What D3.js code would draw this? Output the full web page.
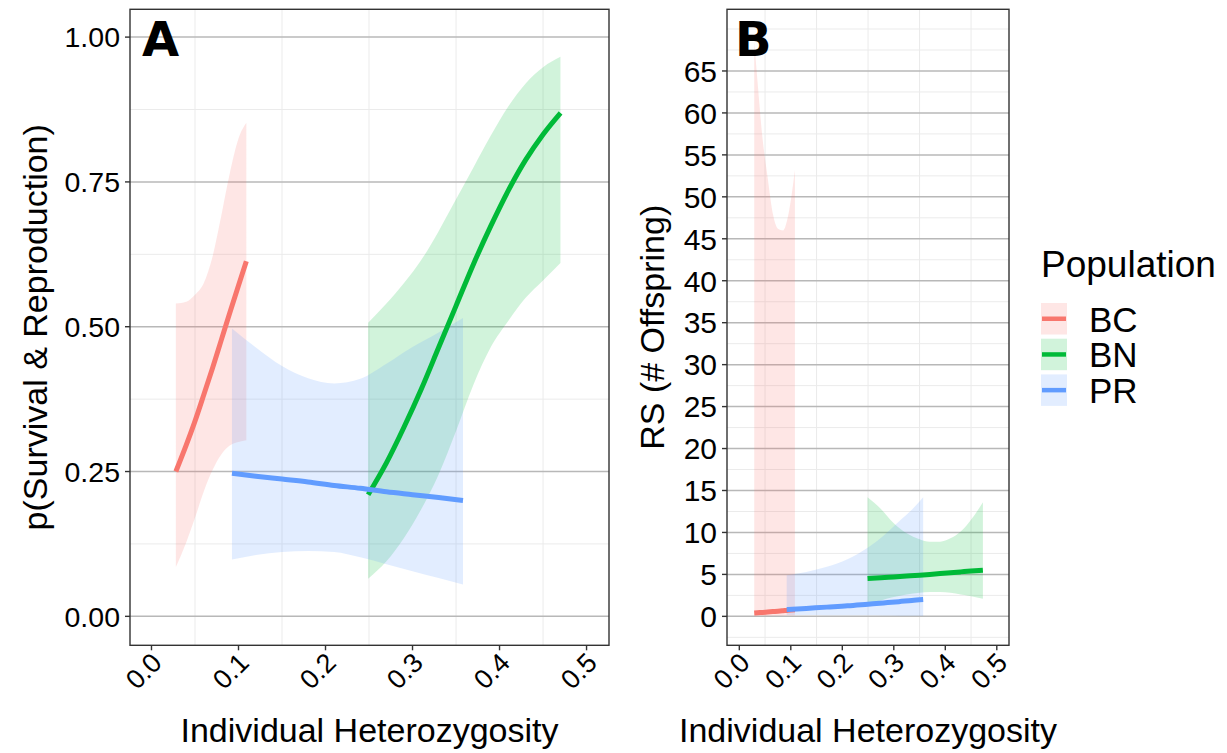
<!DOCTYPE html>
<html>
<head>
<meta charset="utf-8">
<script src="https://cdn.jsdelivr.net/npm/d3@7"></script>
<style>
  body { margin: 0; background: #fff; }
  svg text { font-family: "Liberation Sans", Arial, sans-serif; fill: #000; }
</style>
</head>
<body>
<svg id="chart" width="1227" height="753"></svg>
<script>
var populations = ["BC", "BN", "PR"];
var xTicks = [0, 0.1, 0.2, 0.3, 0.4, 0.5];
var survTicks = [0, 0.25, 0.5, 0.75, 1];
var rsTicks = [0, 5, 10, 15, 20, 25, 30, 35, 40, 45, 50, 55, 60, 65];

// Panel A - p(Survival & Reproduction), fitted line + ribbon per population
var bcSurvX   = [0.028, 0.04, 0.05, 0.06, 0.07, 0.08, 0.09, 0.1, 0.109];
var bcSurvFit = [0.25, 0.296, 0.337, 0.382, 0.428, 0.476, 0.524, 0.571, 0.613];
var bcSurvLo  = [0.085, 0.128, 0.17, 0.215, 0.252, 0.279, 0.295, 0.301, 0.304];
var bcSurvHi  = [0.54, 0.543, 0.555, 0.575, 0.62, 0.69, 0.765, 0.825, 0.852];

var bnSurvX   = [0.249, 0.27, 0.29, 0.31, 0.33, 0.35, 0.37, 0.39, 0.41, 0.43, 0.45, 0.47];
var bnSurvFit = [0.21, 0.265, 0.326, 0.392, 0.464, 0.536, 0.608, 0.674, 0.735, 0.788, 0.832, 0.869];
var bnSurvLo  = [0.065, 0.095, 0.135, 0.185, 0.245, 0.32, 0.4, 0.465, 0.51, 0.55, 0.58, 0.61];
var bnSurvHi  = [0.507, 0.54, 0.575, 0.615, 0.665, 0.72, 0.775, 0.83, 0.88, 0.92, 0.948, 0.966];

var prSurvX   = [0.0925, 0.12, 0.15, 0.18, 0.21, 0.24, 0.27, 0.3, 0.33, 0.358];
var prSurvFit = [0.247, 0.242, 0.237, 0.232, 0.226, 0.221, 0.215, 0.21, 0.205, 0.2];
var prSurvLo  = [0.098, 0.106, 0.111, 0.113, 0.111, 0.102, 0.09, 0.078, 0.066, 0.055];
var prSurvHi  = [0.497, 0.464, 0.432, 0.411, 0.402, 0.41, 0.436, 0.465, 0.49, 0.515];

// Panel B - RS (# offspring)
var bcRsX   = [0.029, 0.035, 0.045, 0.055, 0.065, 0.075, 0.085, 0.095, 0.108];
var bcRsFit = [0.4, 0.43, 0.47, 0.52, 0.57, 0.62, 0.68, 0.74, 0.8];
var bcRsLo  = [0.02, 0.03, 0.04, 0.05, 0.06, 0.07, 0.08, 0.09, 0.1];
var bcRsHi  = [68.5, 64, 57, 52.3, 48, 46.2, 46, 47.8, 53.2];

var bnRsX   = [0.249, 0.275, 0.3, 0.325, 0.35, 0.37, 0.39, 0.41, 0.43, 0.45, 0.473];
var bnRsFit = [4.5, 4.6, 4.7, 4.8, 4.9, 5.0, 5.1, 5.2, 5.3, 5.4, 5.5];
var bnRsLo  = [1.4, 1.9, 2.3, 2.6, 2.8, 2.9, 2.9, 2.8, 2.6, 2.4, 2.1];
var bnRsHi  = [14.2, 12.8, 11.1, 9.9, 9.2, 8.9, 8.9, 9.3, 10.1, 11.5, 13.6];

var prRsX   = [0.092, 0.13, 0.17, 0.21, 0.25, 0.28, 0.31, 0.335, 0.357];
var prRsFit = [0.8, 0.95, 1.1, 1.25, 1.45, 1.6, 1.75, 1.9, 2.0];
var prRsLo  = [0.15, 0.15, 0.14, 0.13, 0.12, 0.1, 0.08, 0.06, 0.05];
var prRsHi  = [4.9, 5.3, 5.9, 6.8, 8.2, 9.6, 11.3, 12.7, 14.2];

var color = d3.scaleOrdinal()
              .domain(populations)
              .range(["#F8766D", "#00BA38", "#619CFF"]);

function toRows(x, fit, lo, hi) {
    return x.map(function(v, i) {
        return {x: v, fit: fit[i], lo: lo[i], hi: hi[i]};
    });
}

var svg = d3.select("#chart");
svg.append("rect").attr("width", 1227).attr("height", 753).attr("fill", "#fff");

function drawPanel(p) {
    var x = d3.scaleLinear().domain(p.xDomain).range([p.left, p.right]);
    var y = d3.scaleLinear().domain(p.yDomain).range([p.bottom, p.top]);
    var g = svg.append("g");

    // minor grid
    var xMinor = [0.05, 0.15, 0.25, 0.35, 0.45];
    g.selectAll(".vminor").data(xMinor).enter().append("line")
     .attr("x1", d => x(d)).attr("x2", d => x(d))
     .attr("y1", p.top).attr("y2", p.bottom)
     .attr("stroke", "#ebebeb").attr("stroke-width", 1);
    g.selectAll(".hminor").data(p.yMinor).enter().append("line")
     .attr("x1", p.left).attr("x2", p.right)
     .attr("y1", d => y(d)).attr("y2", d => y(d))
     .attr("stroke", "#ebebeb").attr("stroke-width", 1);
    // major grid (horizontal only)
    g.selectAll(".hmajor").data(p.yTicks).enter().append("line")
     .attr("x1", p.left).attr("x2", p.right)
     .attr("y1", d => y(d)).attr("y2", d => y(d))
     .attr("stroke", "#b8b8b8").attr("stroke-width", 1.5);

    var area = d3.area()
                 .x(d => x(d.x)).y0(d => y(d.lo)).y1(d => y(d.hi))
                 .curve(d3.curveMonotoneX);
    var line = d3.line()
                 .x(d => x(d.x)).y(d => y(d.fit))
                 .curve(d3.curveMonotoneX);

    p.series.forEach(function(s) {
        g.append("path").attr("d", area(s.rows))
         .attr("fill", color(s.pop)).attr("fill-opacity", 0.18);
    });
    p.series.forEach(function(s) {
        g.append("path").attr("d", line(s.rows))
         .attr("fill", "none").attr("stroke", color(s.pop))
         .attr("stroke-width", 5);
    });

    // panel border
    g.append("rect")
     .attr("x", p.left).attr("y", p.top)
     .attr("width", p.right - p.left).attr("height", p.bottom - p.top)
     .attr("fill", "none").attr("stroke", "#333").attr("stroke-width", 1.4);

    // y axis ticks + labels
    g.selectAll(".ytick").data(p.yTicks).enter().append("line")
     .attr("x1", p.left - 5).attr("x2", p.left)
     .attr("y1", d => y(d)).attr("y2", d => y(d))
     .attr("stroke", "#333").attr("stroke-width", 1.4);
    g.selectAll(".ylab").data(p.yTicks).enter().append("text")
     .attr("x", p.left - 10).attr("y", d => y(d))
     .attr("dy", "0.36em")
     .attr("text-anchor", "end")
     .style("font-size", p.yTickSize + "px")
     .text(p.yFormat);

    // x axis ticks + rotated labels
    g.selectAll(".xtick").data(xTicks).enter().append("line")
     .attr("x1", d => x(d)).attr("x2", d => x(d))
     .attr("y1", p.bottom).attr("y2", p.bottom + 5)
     .attr("stroke", "#333").attr("stroke-width", 1.4);
    g.selectAll(".xlab").data(xTicks).enter().append("text")
     .attr("transform", d => "translate(" + (x(d) + 12) + "," + (p.bottom + 19) + ") rotate(-45)")
     .attr("text-anchor", "end")
     .style("font-size", "27px")
     .text(d3.format(".1f"));

    // axis titles
    g.append("text")
     .attr("x", (p.left + p.right) / 2).attr("y", 742)
     .attr("text-anchor", "middle")
     .style("font-size", "34px")
     .text("Individual Heterozygosity");
    g.append("text")
     .attr("transform", "translate(" + p.yTitleX + "," + (p.top + p.bottom) / 2 + ") rotate(-90)")
     .attr("text-anchor", "middle")
     .style("font-size", "34px")
     .text(p.yTitle);

    // panel letter
    g.append("text")
     .attr("x", p.letterX).attr("y", 56)
     .style("font-family", "'DejaVu Sans', sans-serif")
     .style("font-weight", "bold")
     .style("font-size", "48px")
     .text(p.letter);
}

drawPanel({
    left: 130, right: 609, top: 9.3, bottom: 645.3,
    xDomain: [-0.0247, 0.5258], yDomain: [-0.05, 1.048],
    yTicks: survTicks, yMinor: [0.125, 0.375, 0.625, 0.875],
    yFormat: d3.format(".2f"), yTickSize: 28.5,
    yTitle: "p(Survival & Reproduction)", yTitleX: 47,
    letter: "A", letterX: 142,
    series: [
        {pop: "BC", rows: toRows(bcSurvX, bcSurvFit, bcSurvLo, bcSurvHi)},
        {pop: "BN", rows: toRows(bnSurvX, bnSurvFit, bnSurvLo, bnSurvHi)},
        {pop: "PR", rows: toRows(prSurvX, prSurvFit, prSurvLo, prSurvHi)}
    ]
});

drawPanel({
    left: 727, right: 1009, top: 9.3, bottom: 645.3,
    xDomain: [-0.0239, 0.5237], yDomain: [-3.45, 72.35],
    yTicks: rsTicks,
    yMinor: d3.range(-2.5, 70.1, 2.5).filter(v => rsTicks.indexOf(v) < 0),
    yFormat: d3.format("d"), yTickSize: 30,
    yTitle: "RS (# Offspring)", yTitleX: 664,
    letter: "B", letterX: 735,
    series: [
        {pop: "BC", rows: toRows(bcRsX, bcRsFit, bcRsLo, bcRsHi)},
        {pop: "BN", rows: toRows(bnRsX, bnRsFit, bnRsLo, bnRsHi)},
        {pop: "PR", rows: toRows(prRsX, prRsFit, prRsLo, prRsHi)}
    ]
});

// legend
var legend = svg.append("g");
legend.append("text")
      .attr("x", 1041).attr("y", 277)
      .style("font-size", "37px")
      .text("Population");
var key = legend.selectAll(".key").data(populations).enter().append("g")
                .attr("transform", (d, i) => "translate(1041," + (303 + i * 35.7) + ")");
key.append("rect")
   .attr("width", 26).attr("height", 31.5)
   .attr("fill", d => color(d)).attr("fill-opacity", 0.18);
key.append("line")
   .attr("x1", 1).attr("x2", 25).attr("y1", 15.75).attr("y2", 15.75)
   .attr("stroke", d => color(d)).attr("stroke-width", 4.5);
key.append("text")
   .attr("x", 48).attr("y", 28.5)
   .style("font-size", "35px")
   .text(d => d);
</script>
</body>
</html>
